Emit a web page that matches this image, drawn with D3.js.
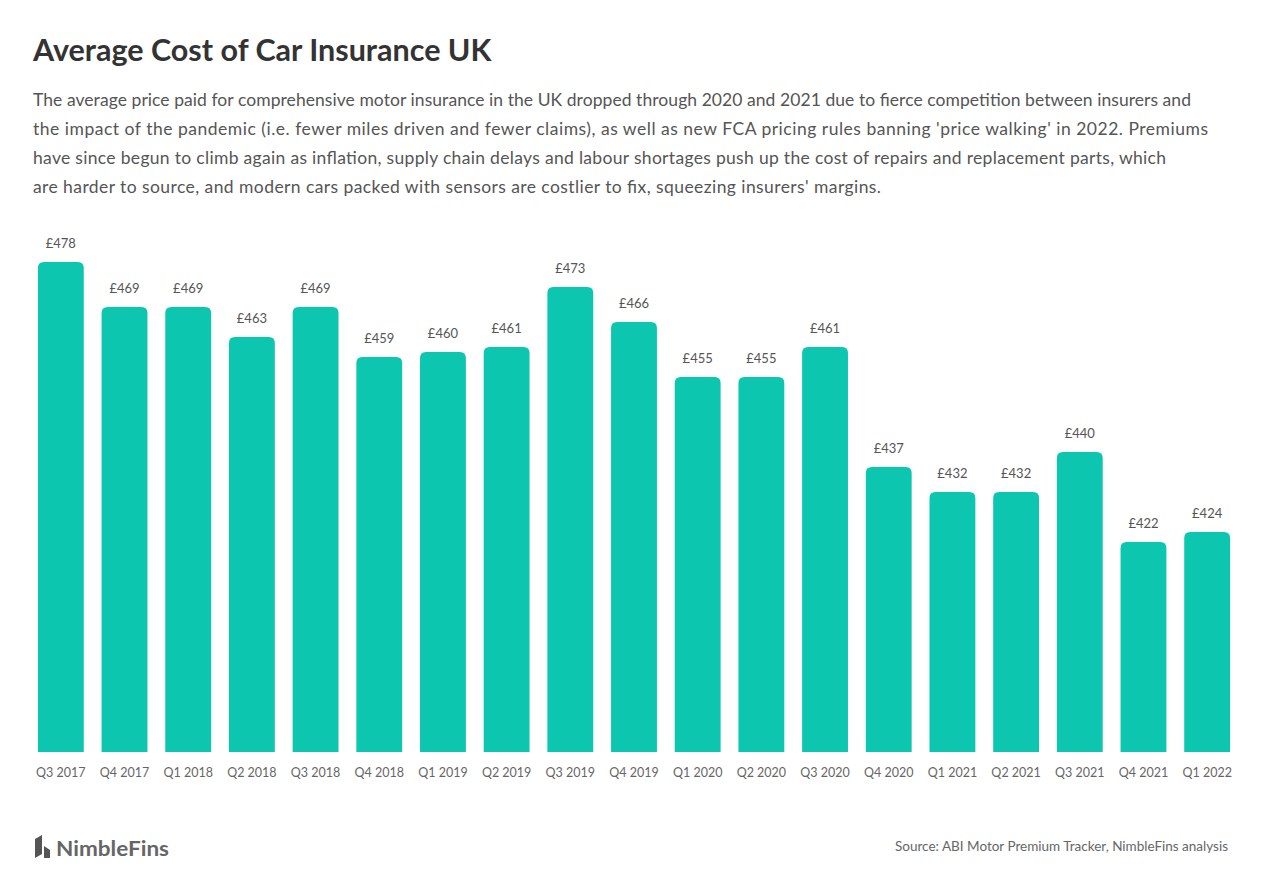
<!DOCTYPE html>
<html>
<head>
<meta charset="utf-8">
<script src="https://cdn.jsdelivr.net/npm/d3@7"></script>
<style>
  body { margin: 0; background: #fff; }
  svg { display: block; font-family: Lato, "Open Sans", sans-serif; }
</style>
</head>
<body>
<script>
// data
var quarters = ["Q3 2017", "Q4 2017", "Q1 2018", "Q2 2018", "Q3 2018", "Q4 2018", "Q1 2019", "Q2 2019", "Q3 2019", "Q4 2019",
                "Q1 2020", "Q2 2020", "Q3 2020", "Q4 2020", "Q1 2021", "Q2 2021", "Q3 2021", "Q4 2021", "Q1 2022"];
var premiums = [478, 469, 469, 463, 469, 459, 460, 461, 473, 466, 455, 455, 461, 437, 432, 432, 440, 422, 424];

var title = "Average Cost of Car Insurance UK";
var subtitle = [
  "The average price paid for comprehensive motor insurance in the UK dropped through 2020 and 2021 due to fierce competition between insurers and",
  "the impact of the pandemic (i.e. fewer miles driven and fewer claims), as well as new FCA pricing rules banning 'price walking' in 2022. Premiums",
  "have since begun to climb again as inflation, supply chain delays and labour shortages push up the cost of repairs and replacement parts, which",
  "are harder to source, and modern cars packed with sensors are costlier to fix, squeezing insurers' margins."
];
var subtitleWidths = [1158, 1175, 1133, 848];
var source = "Source: ABI Motor Premium Tracker, NimbleFins analysis";

var width = 1267, height = 882;
var barColor = "#0cc6b0";

var svg = d3.select("body").append("svg")
    .attr("width", width)
    .attr("height", height);

svg.append("text")
    .attr("x", 33).attr("y", 61)
    .attr("font-size", 30.5).attr("font-weight", 700)
    .attr("fill", "#333")
    .text(title);

svg.append("g").selectAll("text")
  .data(subtitle)
  .enter().append("text")
    .attr("x", 33)
    .attr("y", function(d, i) { return 106 + i * 29; })
    .attr("font-size", 17.5)
    .attr("fill", "#555")
    .attr("textLength", function(d, i) { return subtitleWidths[i]; })
    .attr("lengthAdjust", "spacing")
    .text(function(d) { return d; });

var baseline = 752;

var x = d3.scaleBand()
    .domain(quarters)
    .range([29, 1239])
    .paddingInner(0.28)
    .paddingOuter(0.14);

var y = d3.scaleLinear()
    .domain([380, 490])
    .range([baseline, baseline - 550]);

function barPath(d, i) {
  var x0 = x(quarters[i]), w = x.bandwidth();
  var top = y(d), r = 6;
  return "M" + x0 + "," + baseline +
         "V" + (top + r) +
         "Q" + x0 + "," + top + " " + (x0 + r) + "," + top +
         "H" + (x0 + w - r) +
         "Q" + (x0 + w) + "," + top + " " + (x0 + w) + "," + (top + r) +
         "V" + baseline + "Z";
}

svg.append("g").selectAll("path")
  .data(premiums)
  .enter().append("path")
    .attr("d", barPath)
    .attr("fill", barColor);

svg.append("g").selectAll("text")
  .data(premiums)
  .enter().append("text")
    .attr("x", function(d, i) { return x(quarters[i]) + x.bandwidth() / 2; })
    .attr("y", function(d) { return y(d) - 14; })
    .attr("text-anchor", "middle")
    .attr("font-size", 13)
    .attr("fill", "#555")
    .text(function(d) { return "£" + d; });

var xAxis = svg.append("g")
    .attr("transform", "translate(0," + baseline + ")")
    .call(d3.axisBottom(x).tickSize(0).tickPadding(16));
xAxis.select(".domain").remove();
xAxis.selectAll("text")
    .attr("font-family", "Lato, sans-serif")
    .attr("font-size", 12.5)
    .attr("fill", "#666");

// logo
var logo = svg.append("g").attr("transform", "translate(35,858)");
logo.append("path")
    .attr("d", "M0,0 L0,-19 L7,-23 L7,-4 Z M9,0 L9,-12 L15,-8 L15,0 Z")
    .attr("fill", "#555");
logo.append("text")
    .attr("x", 21).attr("y", -2)
    .attr("font-size", 20).attr("font-weight", 700)
    .attr("fill", "#666")
    .attr("textLength", 113)
    .attr("lengthAdjust", "spacingAndGlyphs")
    .text("NimbleFins");

svg.append("text")
    .attr("x", 1228).attr("y", 851)
    .attr("text-anchor", "end")
    .attr("font-size", 13.5)
    .attr("fill", "#666")
    .text(source);
</script>
</body>
</html>
